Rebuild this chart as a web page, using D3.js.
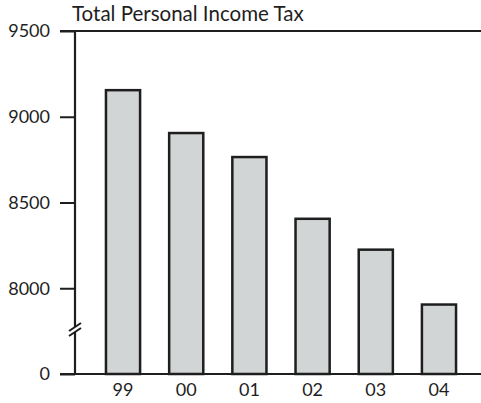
<!DOCTYPE html>
<html>
<head>
<meta charset="utf-8">
<script src="https://cdn.jsdelivr.net/npm/d3@7/dist/d3.min.js"></script>
<style>
  html, body { margin: 0; padding: 0; background: #fff; }
  svg { display: block; }
  text { font-family: Lato, "Open Sans", sans-serif; fill: #1e1e1e; }
</style>
</head>
<body>
<svg id="chart" width="481" height="403"></svg>
<script>
// Total personal income tax by year
const years = ["99", "00", "01", "02", "03", "04"];
const taxValues = [9155, 8905, 8765, 8405, 8225, 7905];
const yTickValues = [7500, 8000, 8500, 9000, 9500];
const yTickLabels = ["0", "8000", "8500", "9000", "9500"];
const title = "Total Personal Income Tax";

const width = 481, height = 403;
const axisX = 75, topY = 31, baseY = 374;
const ink = "#1e1e1e";

const svg = d3.select("#chart");

// The axis is broken between 0 and 8000, so the bottom slot stands for 0
const y = d3.scaleLinear().domain([7500, 9500]).range([baseY, topY]);
const x = d3.scaleBand().domain(years).range([axisX, 487])
  .paddingInner(0.46).paddingOuter(0.49);

// Bars
svg.append("g").selectAll("rect").data(taxValues).join("rect")
  .attr("x", (d, i) => x(years[i]))
  .attr("y", d => y(d))
  .attr("width", x.bandwidth())
  .attr("height", d => baseY - y(d))
  .attr("fill", "#d2d5d6")
  .attr("stroke", ink)
  .attr("stroke-width", 2.5);

// Y axis with ticks on the left
const yAxis = d3.axisLeft(y).tickValues(yTickValues)
  .tickFormat((d, i) => yTickLabels[i]).tickSize(15).tickPadding(10);
const gy = svg.append("g").attr("transform", `translate(${axisX},0)`).call(yAxis);
gy.select(".domain").remove();
gy.selectAll(".tick line").attr("stroke", ink).attr("stroke-width", 2);
gy.selectAll(".tick text").style("font-size", "18px").attr("fill", ink);

// Vertical axis line with a gap for the break
const gapTop = y(7500) - 47, gapBottom = y(7500) - 42;
svg.append("line").attr("x1", axisX).attr("x2", axisX)
  .attr("y1", topY).attr("y2", gapTop).attr("stroke", ink).attr("stroke-width", 2.2);
svg.append("line").attr("x1", axisX).attr("x2", axisX)
  .attr("y1", gapBottom).attr("y2", baseY).attr("stroke", ink).attr("stroke-width", 2.2);
// Break marks
[gapTop, gapBottom].forEach(cy => {
  svg.append("line")
    .attr("x1", axisX - 6).attr("y1", cy + 4)
    .attr("x2", axisX + 6).attr("y2", cy - 4)
    .attr("stroke", ink).attr("stroke-width", 2);
});

// Top rule and baseline
svg.append("line").attr("x1", 60).attr("x2", width).attr("y1", topY).attr("y2", topY)
  .attr("stroke", ink).attr("stroke-width", 2);
svg.append("line").attr("x1", 60).attr("x2", width).attr("y1", baseY).attr("y2", baseY)
  .attr("stroke", ink).attr("stroke-width", 2);

// X axis labels
const xAxis = d3.axisBottom(x).tickSize(0).tickPadding(9);
const gx = svg.append("g").attr("transform", `translate(0,${baseY})`).call(xAxis);
gx.select(".domain").remove();
gx.selectAll(".tick text").style("font-size", "18px").attr("fill", ink);

// Title
svg.append("text").attr("x", 72).attr("y", 21)
  .style("font-size", "20.5px").text(title);
</script>
</body>
</html>
